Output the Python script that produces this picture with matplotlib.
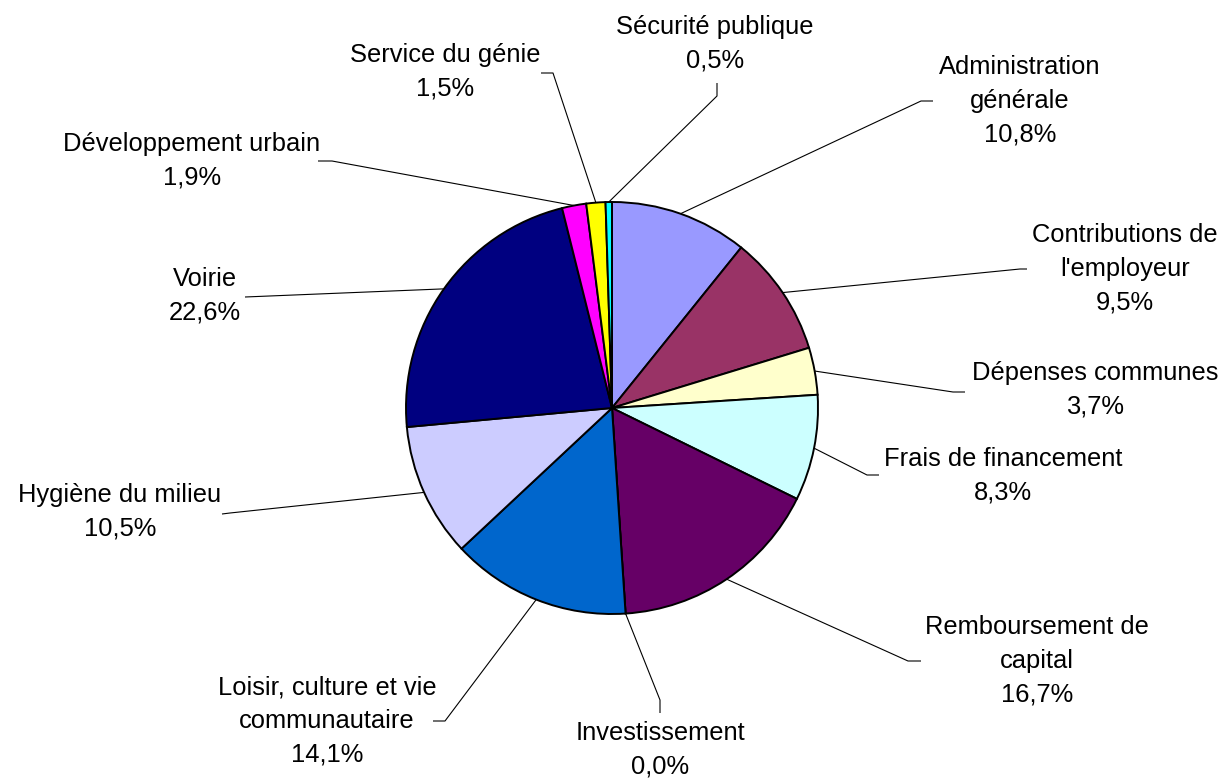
import numpy as np
import matplotlib.pyplot as plt

plt.rcParams['font.family'] = ['Liberation Sans', 'DejaVu Sans']

# data (clockwise from 12 o'clock)
categories = ['Administration\ngénérale', "Contributions de\nl'employeur",
              'Dépenses communes', 'Frais de financement',
              'Remboursement de\ncapital', 'Investissement',
              'Loisir, culture et vie\ncommunautaire', 'Hygiène du milieu',
              'Voirie', 'Développement urbain', 'Service du génie',
              'Sécurité publique']
shares = [10.8, 9.5, 3.7, 8.3, 16.7, 0.0, 14.1, 10.5, 22.6, 1.9, 1.5, 0.5]
colors = ['#9999FF', '#993366', '#FFFFCC', '#CCFFFF', '#660066', '#FF8080',
          '#0066CC', '#CCCCFF', '#000080', '#FF00FF', '#FFFF00', '#00FFFF']

W, H = 1223, 781
cx, cy, r = 612, 408, 206

# layout in pixel coords: label centre, elbow point, end of short tick
label_pos = [(1020, 101), (1125, 269), (1095, 390), (1003, 476),
             (1037, 661), (660, 750), (327, 721), (120, 512),
             (205, 296), (192, 161), (445, 72), (715, 44)]
elbows = [((921, 101), (933, 101)), ((1020, 269), (1027, 269)),
          ((953, 392), (965, 392)), ((867, 475), (879, 475)),
          ((908, 661), (921, 661)), ((660, 700), (660, 713)),
          ((445, 721), (433, 721)), ((230, 513), (222, 514)),
          ((245, 297), (245, 297)), ((332, 161), (318, 161)),
          ((553, 73), (541, 73)), ((717, 96), (717, 83))]

fig = plt.figure(figsize=(W / 100, H / 100), dpi=100)
ax = fig.add_axes([0, 0, 1, 1])

wedges, _ = ax.pie(shares, colors=colors, startangle=90, counterclock=False,
                   center=(cx, H - cy), radius=r,
                   wedgeprops=dict(edgecolor='black', linewidth=1.4))

for w, cat, val, (lx, ly), (p1, p2) in zip(wedges, categories, shares,
                                            label_pos, elbows):
    mid = np.deg2rad((w.theta1 + w.theta2) / 2)
    sx = cx + r * np.cos(mid)
    sy = (H - cy) + r * np.sin(mid)
    ax.plot([sx, p1[0], p2[0]], [sy, H - p1[1], H - p2[1]],
            color='black', lw=0.8, solid_capstyle='butt', zorder=0)
    txt = cat + '\n' + f'{val:.1f}%'.replace('.', ',')
    ax.text(lx, H - ly, txt, ha='center', va='center', fontsize=18.4,
            linespacing=1.5)

ax.set_xlim(0, W)
ax.set_ylim(0, H)
ax.set_aspect('equal')
ax.axis('off')

fig.savefig('out.png', dpi=100, facecolor='white')
